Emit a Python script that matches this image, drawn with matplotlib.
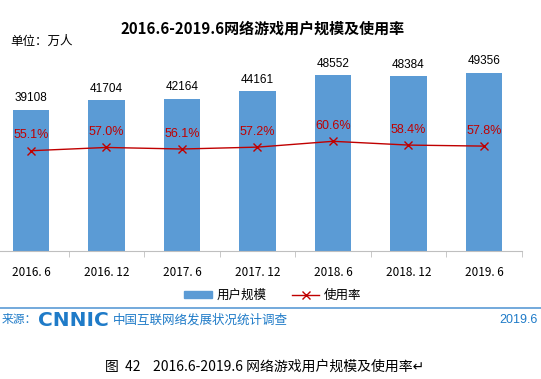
import matplotlib
matplotlib.use("Agg")
import matplotlib.pyplot as plt
from matplotlib.lines import Line2D
from matplotlib.patches import Patch

plt.rcParams['font.family'] = ['Noto Sans CJK SC', 'DejaVu Sans']

periods = ['2016. 6', '2016. 12', '2017. 6', '2017. 12', '2018. 6', '2018. 12', '2019. 6']
users = [39108, 41704, 42164, 44161, 48552, 48384, 49356]
rate = [55.1, 57.0, 56.1, 57.2, 60.6, 58.4, 57.8]

W, H = 541, 379
fig = plt.figure(figsize=(W / 100, H / 100), dpi=100)

# plot area in pixels: left 0, right 521.7, bottom 251, top 33
ax = fig.add_axes([0, 1 - 251 / H, 521.7 / W, (251 - 33) / H])
x = list(range(len(periods)))
ax.bar(x, users, width=0.485, color='#5B9BD5', zorder=2)
for xi, v in zip(x, users):
    ax.text(xi, v + 1500, str(v), ha='center', va='bottom', fontsize=8.5,
            family='Liberation Sans', color='black')

for s in ['top', 'right', 'left']:
    ax.spines[s].set_visible(False)
ax.spines['bottom'].set_color('#BFBFBF')
ax.set_yticks([])
ax.set_xticks(x)
ax.set_xticklabels(periods)
ax.set_xticks([i + 0.5 for i in range(-1, len(periods))], minor=True)
ax.tick_params(axis='x', which='minor', length=4, color='#BFBFBF')
ax.tick_params(axis='x', which='major', length=0, pad=11, labelsize=8.5)
ax.set_xlim(-0.41, 6.5)
ax.set_ylim(0, 60300)

ax2 = ax.twinx()
ax2.set_xlim(-0.41, 6.5)
ax2.set_ylim(-3.6, 124)
ax2.plot(x, rate, color='#C00000', lw=1, marker='x', ms=6, mew=1, zorder=3)
for xi, r in zip(x, rate):
    ax2.text(xi, r + 5.5, '%.1f%%' % r, ha='center', va='bottom', fontsize=9,
             family='Liberation Sans', color='#C00000')
ax2.axis('off')

fig.text(263 / W, 1 - 28 / H, '2016.6-2019.6网络游戏用户规模及使用率', ha='center',
         va='center', fontsize=10.8, fontweight='bold')
fig.text(10 / W, 1 - 41 / H, '单位：万人', ha='left', va='center', fontsize=9)

handles = [Patch(color='#5B9BD5'),
           Line2D([], [], color='#C00000', lw=1, marker='x', ms=6)]
fig.legend(handles, ['用户规模', '使用率'], loc='center', ncol=2,
           bbox_to_anchor=(273 / W, 1 - 295 / H), frameon=False, fontsize=9,
           handlelength=2.2, handleheight=0.5, columnspacing=2.0, handletextpad=0.4)

blue = '#1F7BC8'
fig.add_artist(Line2D([0, 1], [1 - 308 / H, 1 - 308 / H], color='#5B9BD5', lw=1.2))
fig.text(2 / W, 1 - 320 / H, '来源：', ha='left', va='center', fontsize=8.5, color=blue)
fig.text(38 / W, 1 - 320 / H, 'CNNIC', ha='left', va='center', fontsize=14.5,
         fontweight='black', color=blue, family='DejaVu Sans')
fig.text(113 / W, 1 - 320 / H, '中国互联网络发展状况统计调查', ha='left', va='center',
         fontsize=9, color=blue)
fig.text(538 / W, 1 - 320 / H, '2019.6', ha='right', va='center', fontsize=9,
         color=blue, family='Liberation Sans')

fig.text(265 / W, 1 - 367 / H, '图  42    2016.6-2019.6 网络游戏用户规模及使用率↵',
         ha='center', va='center', fontsize=10)

fig.savefig('out.png', dpi=100)
